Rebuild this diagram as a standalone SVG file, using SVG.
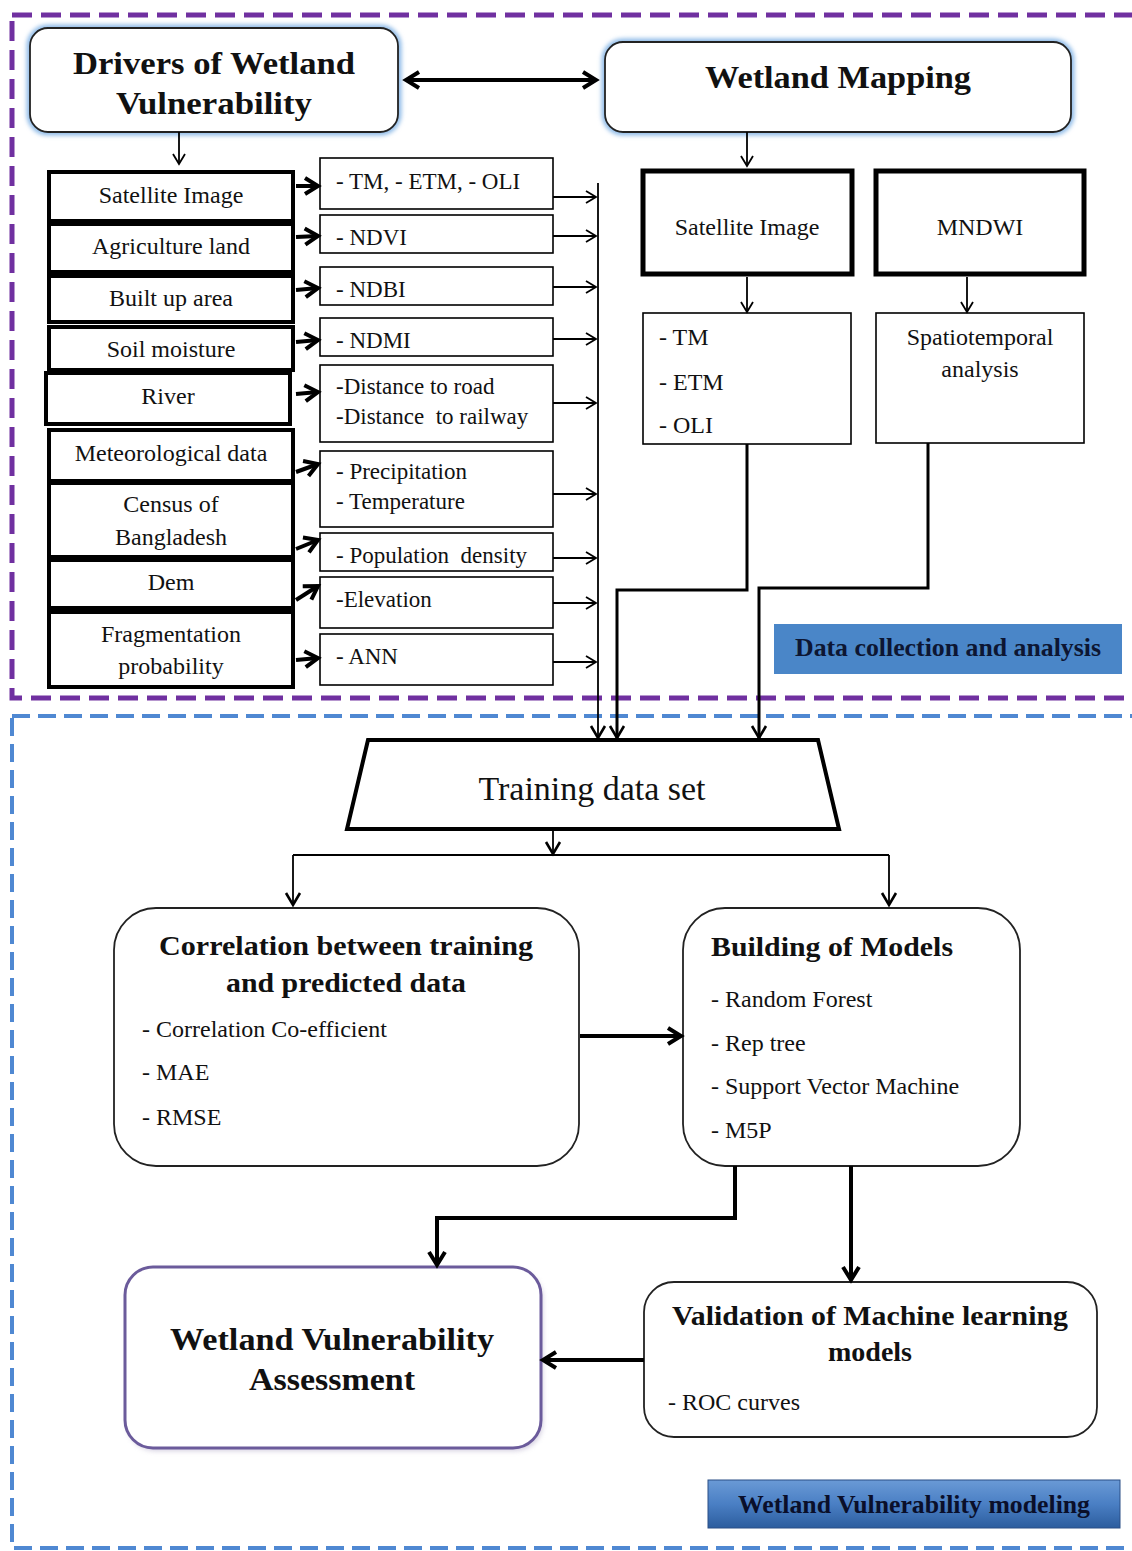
<svg xmlns="http://www.w3.org/2000/svg" width="1132" height="1551" viewBox="0 0 1132 1551">
<defs>
<style>
text{fill:#111}
.b{font-weight:bold}
.c{text-anchor:middle}
.f24{font-size:24px}
.f22{font-size:23px}
.thick{fill:#fff;stroke:#000;stroke-width:4}
.thin{fill:#fff;stroke:#000;stroke-width:1.6}
.rbox{fill:#fff;stroke:#222;stroke-width:1.8}
.ln{fill:none;stroke:#000;stroke-width:1.8}
.ln3{fill:none;stroke:#000;stroke-width:3}
.ln4{fill:none;stroke:#000;stroke-width:4}
</style>
<marker id="ah" markerUnits="userSpaceOnUse" markerWidth="16" markerHeight="16" refX="13" refY="8" orient="auto-start-reverse">
<path d="M3,2 L13,8 L3,14" fill="none" stroke="#000" stroke-width="1.8"/>
</marker>
<marker id="ahm" markerUnits="userSpaceOnUse" markerWidth="20" markerHeight="20" refX="16" refY="10" orient="auto-start-reverse">
<path d="M4,3 L16,10 L4,17" fill="none" stroke="#000" stroke-width="2.6"/>
</marker>
<marker id="ahb" markerUnits="userSpaceOnUse" markerWidth="24" markerHeight="24" refX="19" refY="12" orient="auto-start-reverse">
<path d="M6,4 L19,12 L6,20" fill="none" stroke="#000" stroke-width="4"/>
</marker>
<filter id="glow" x="-10%" y="-20%" width="120%" height="140%">
<feGaussianBlur stdDeviation="2"/>
</filter>
<filter id="sh" x="-10%" y="-10%" width="120%" height="130%">
<feGaussianBlur stdDeviation="2.5"/>
</filter>
<linearGradient id="gb" x1="0" y1="0" x2="0" y2="1">
<stop offset="0" stop-color="#6a9ad6"/>
<stop offset="0.5" stop-color="#4a7fc4"/>
<stop offset="1" stop-color="#2c5d9e"/>
</linearGradient>
</defs>

<g id="borders">
<rect x="12" y="15" width="1128" height="683" fill="none" stroke="#7030a0" stroke-width="5" stroke-dasharray="20 9"/>
<rect x="12" y="716" width="1128" height="832" fill="none" stroke="#4f88d2" stroke-width="4" stroke-dasharray="18 8"/>
</g>

<g id="drivers">
<rect x="30" y="28" width="368" height="104" rx="18" fill="none" stroke="#8fbbe8" stroke-width="7" filter="url(#glow)"/>
<rect x="30" y="28" width="368" height="104" rx="18" class="rbox"/>
<text font-family="Liberation Serif" x="214" y="74" class="b c" font-size="32" textLength="282" lengthAdjust="spacingAndGlyphs">Drivers of Wetland</text>
<text font-family="Liberation Serif" x="214" y="114" class="b c" font-size="32" textLength="196" lengthAdjust="spacingAndGlyphs">Vulnerability</text>
</g>

<g id="wetland-mapping">
<rect x="605" y="42" width="466" height="90" rx="18" fill="none" stroke="#8fbbe8" stroke-width="7" filter="url(#glow)"/>
<rect x="605" y="42" width="466" height="90" rx="18" class="rbox"/>
<text font-family="Liberation Serif" x="838" y="88" class="b c" font-size="32" textLength="266" lengthAdjust="spacingAndGlyphs">Wetland Mapping</text>
</g>

<g id="left-satellite"><rect x="49" y="172" width="244" height="49" class="thick"/><text font-family="Liberation Serif" x="171" y="203" class="c f24">Satellite Image</text></g>
<g id="left-agriculture"><rect x="49" y="224" width="244" height="48" class="thick"/><text font-family="Liberation Serif" x="171" y="254" class="c f24">Agriculture land</text></g>
<g id="left-builtup"><rect x="49" y="276" width="244" height="46" class="thick"/><text font-family="Liberation Serif" x="171" y="306" class="c f24">Built up area</text></g>
<g id="left-soil"><rect x="49" y="327" width="244" height="43" class="thick"/><text font-family="Liberation Serif" x="171" y="357" class="c f24">Soil moisture</text></g>
<g id="left-river"><rect x="46" y="373" width="244" height="51" class="thick"/><text font-family="Liberation Serif" x="168" y="404" class="c f24">River</text></g>
<g id="left-met"><rect x="49" y="430" width="244" height="51" class="thick"/><text font-family="Liberation Serif" x="171" y="461" class="c f24">Meteorological data</text></g>
<g id="left-census"><rect x="49" y="483" width="244" height="74" class="thick"/><text font-family="Liberation Serif" x="171" y="512" class="c f24">Census of</text><text font-family="Liberation Serif" x="171" y="545" class="c f24">Bangladesh</text></g>
<g id="left-dem"><rect x="49" y="560" width="244" height="48" class="thick"/><text font-family="Liberation Serif" x="171" y="590" class="c f24">Dem</text></g>
<g id="left-frag"><rect x="49" y="612" width="244" height="75" class="thick"/><text font-family="Liberation Serif" x="171" y="642" class="c f24">Fragmentation</text><text font-family="Liberation Serif" x="171" y="674" class="c f24">probability</text></g>

<g id="mid-tm"><rect x="320" y="158" width="233" height="51" class="thin"/><text font-family="Liberation Serif" x="336" y="189" class="f22">- TM, - ETM, - OLI</text></g>
<g id="mid-ndvi"><rect x="320" y="215" width="233" height="38" class="thin"/><text font-family="Liberation Serif" x="336" y="245" class="f22">- NDVI</text></g>
<g id="mid-ndbi"><rect x="320" y="267" width="233" height="38" class="thin"/><text font-family="Liberation Serif" x="336" y="297" class="f22">- NDBI</text></g>
<g id="mid-ndmi"><rect x="320" y="318" width="233" height="38" class="thin"/><text font-family="Liberation Serif" x="336" y="348" class="f22">- NDMI</text></g>
<g id="mid-distance"><rect x="320" y="365" width="233" height="77" class="thin"/><text font-family="Liberation Serif" x="336" y="394" class="f22">-Distance to road</text><text font-family="Liberation Serif" x="336" y="424" class="f22" xml:space="preserve">-Distance  to railway</text></g>
<g id="mid-precip"><rect x="320" y="451" width="233" height="76" class="thin"/><text font-family="Liberation Serif" x="336" y="479" class="f22">- Precipitation</text><text font-family="Liberation Serif" x="336" y="509" class="f22">- Temperature</text></g>
<g id="mid-pop"><rect x="320" y="533" width="233" height="38" class="thin"/><text font-family="Liberation Serif" x="336" y="563" class="f22" xml:space="preserve">- Population  density</text></g>
<g id="mid-elev"><rect x="320" y="577" width="233" height="51" class="thin"/><text font-family="Liberation Serif" x="336" y="607" class="f22">-Elevation</text></g>
<g id="mid-ann"><rect x="320" y="634" width="233" height="51" class="thin"/><text font-family="Liberation Serif" x="336" y="664" class="f22">- ANN</text></g>

<g id="right-satellite"><rect x="643" y="171" width="209" height="103" fill="#fff" stroke="#000" stroke-width="5"/><text font-family="Liberation Serif" x="747" y="235" class="c f24">Satellite Image</text></g>
<g id="right-mndwi"><rect x="876" y="171" width="208" height="103" fill="#fff" stroke="#000" stroke-width="5"/><text font-family="Liberation Serif" x="980" y="235" class="c f24">MNDWI</text></g>
<g id="right-tm"><rect x="643" y="313" width="208" height="131" class="thin"/><text font-family="Liberation Serif" x="659" y="345" class="f24">- TM</text><text font-family="Liberation Serif" x="659" y="390" class="f24">- ETM</text><text font-family="Liberation Serif" x="659" y="433" class="f24">- OLI</text></g>
<g id="right-spatio"><rect x="876" y="313" width="208" height="130" class="thin"/><text font-family="Liberation Serif" x="980" y="345" class="c f24">Spatiotemporal</text><text font-family="Liberation Serif" x="980" y="377" class="c f24">analysis</text></g>

<g id="data-collection-label"><rect x="774" y="624" width="348" height="50" fill="#4a86c8"/><text font-family="Liberation Serif" x="948" y="656" class="b c" font-size="25" textLength="306" lengthAdjust="spacingAndGlyphs" style="fill:#0d1633">Data collection and analysis</text></g>

<g id="training"><path d="M368,740 L818,740 L839,829 L347,829 Z" fill="#fff" stroke="#000" stroke-width="4"/><text font-family="Liberation Serif" x="592" y="800" class="c" font-size="34" textLength="227" lengthAdjust="spacingAndGlyphs">Training data set</text></g>

<g id="correlation"><rect x="114" y="908" width="465" height="258" rx="42" class="rbox"/>
<text font-family="Liberation Serif" x="346" y="955" class="b c" font-size="28" textLength="374" lengthAdjust="spacingAndGlyphs">Correlation between training</text>
<text font-family="Liberation Serif" x="346" y="992" class="b c" font-size="28" textLength="240" lengthAdjust="spacingAndGlyphs">and predicted data</text>
<text font-family="Liberation Serif" x="142" y="1037" class="f24">- Correlation Co-efficient</text>
<text font-family="Liberation Serif" x="142" y="1080" class="f24">- MAE</text>
<text font-family="Liberation Serif" x="142" y="1125" class="f24">- RMSE</text></g>

<g id="building"><rect x="683" y="908" width="337" height="258" rx="42" class="rbox"/>
<text font-family="Liberation Serif" x="711" y="956" class="b" font-size="28" textLength="242" lengthAdjust="spacingAndGlyphs">Building of Models</text>
<text font-family="Liberation Serif" x="711" y="1007" class="f24">- Random Forest</text>
<text font-family="Liberation Serif" x="711" y="1051" class="f24">- Rep tree</text>
<text font-family="Liberation Serif" x="711" y="1094" class="f24">- Support Vector Machine</text>
<text font-family="Liberation Serif" x="711" y="1138" class="f24">- M5P</text></g>

<g id="assessment"><rect x="127" y="1270" width="416" height="181" rx="28" fill="#b8b0cc" opacity="0.6" filter="url(#sh)"/>
<rect x="125" y="1267" width="416" height="181" rx="28" fill="#fff" stroke="#6b5b9b" stroke-width="3"/>
<text font-family="Liberation Serif" x="332" y="1350" class="b c" font-size="31" textLength="324" lengthAdjust="spacingAndGlyphs">Wetland Vulnerability</text>
<text font-family="Liberation Serif" x="332" y="1390" class="b c" font-size="31" textLength="166" lengthAdjust="spacingAndGlyphs">Assessment</text></g>

<g id="validation"><rect x="644" y="1282" width="453" height="155" rx="30" class="rbox"/>
<text font-family="Liberation Serif" x="870" y="1325" class="b c" font-size="28" textLength="396" lengthAdjust="spacingAndGlyphs">Validation of Machine learning</text>
<text font-family="Liberation Serif" x="870" y="1361" class="b c" font-size="28">models</text>
<text font-family="Liberation Serif" x="668" y="1410" class="f24">- ROC curves</text></g>

<g id="modeling-label"><rect x="708" y="1480" width="412" height="48" fill="url(#gb)" stroke="#2a4f86" stroke-width="1"/><text font-family="Liberation Serif" x="914" y="1513" class="b c" font-size="25" textLength="352" lengthAdjust="spacingAndGlyphs" style="fill:#0a0f2a">Wetland Vulnerability modeling</text></g>

<g id="connectors">
<line x1="179" y1="132" x2="179" y2="164" class="ln" marker-end="url(#ah)"/>
<line x1="747" y1="132" x2="747" y2="166" class="ln" marker-end="url(#ah)"/>
<line x1="406" y1="80" x2="596" y2="80" class="ln4" marker-start="url(#ahb)" marker-end="url(#ahb)"/>

<line x1="296" y1="186" x2="318" y2="186" class="ln4" marker-end="url(#ahb)"/>
<line x1="296" y1="237" x2="318" y2="236" class="ln4" marker-end="url(#ahb)"/>
<line x1="296" y1="290" x2="318" y2="288" class="ln4" marker-end="url(#ahb)"/>
<line x1="296" y1="342" x2="318" y2="340" class="ln4" marker-end="url(#ahb)"/>
<line x1="296" y1="394" x2="318" y2="392" class="ln4" marker-end="url(#ahb)"/>
<line x1="296" y1="472" x2="318" y2="464" class="ln4" marker-end="url(#ahb)"/>
<line x1="296" y1="549" x2="318" y2="540" class="ln4" marker-end="url(#ahb)"/>
<line x1="296" y1="600" x2="318" y2="586" class="ln4" marker-end="url(#ahb)"/>
<line x1="296" y1="660" x2="318" y2="658" class="ln4" marker-end="url(#ahb)"/>

<line x1="553" y1="197" x2="596" y2="197" class="ln" marker-end="url(#ah)"/>
<line x1="553" y1="236" x2="596" y2="236" class="ln" marker-end="url(#ah)"/>
<line x1="553" y1="287" x2="596" y2="287" class="ln" marker-end="url(#ah)"/>
<line x1="553" y1="339" x2="596" y2="339" class="ln" marker-end="url(#ah)"/>
<line x1="553" y1="403" x2="596" y2="403" class="ln" marker-end="url(#ah)"/>
<line x1="553" y1="494" x2="596" y2="494" class="ln" marker-end="url(#ah)"/>
<line x1="553" y1="558" x2="596" y2="558" class="ln" marker-end="url(#ah)"/>
<line x1="553" y1="603" x2="596" y2="603" class="ln" marker-end="url(#ah)"/>
<line x1="553" y1="662" x2="596" y2="662" class="ln" marker-end="url(#ah)"/>
<line x1="598" y1="183" x2="598" y2="738" class="ln" stroke-width="2.4" marker-end="url(#ahm)"/>

<line x1="747" y1="277" x2="747" y2="312" class="ln" marker-end="url(#ah)"/>
<line x1="967" y1="277" x2="967" y2="312" class="ln" marker-end="url(#ah)"/>
<polyline points="747,444 747,590 617,590 617,738" class="ln3" marker-end="url(#ahm)"/>
<polyline points="928,443 928,588 759,588 759,738" class="ln3" marker-end="url(#ahm)"/>

<line x1="553" y1="831" x2="553" y2="854" class="ln" stroke-width="2" marker-end="url(#ahm)"/>
<line x1="293" y1="855" x2="889" y2="855" class="ln" stroke-width="2"/>
<line x1="293" y1="855" x2="293" y2="905" class="ln" stroke-width="2" marker-end="url(#ahm)"/>
<line x1="889" y1="855" x2="889" y2="905" class="ln" stroke-width="2" marker-end="url(#ahm)"/>

<line x1="580" y1="1036" x2="681" y2="1036" class="ln4" marker-end="url(#ahb)"/>
<polyline points="735,1166 735,1218 437,1218 437,1265" class="ln4" marker-end="url(#ahb)"/>
<line x1="851" y1="1166" x2="851" y2="1280" class="ln4" marker-end="url(#ahb)"/>
<line x1="644" y1="1360" x2="543" y2="1360" class="ln4" marker-end="url(#ahb)"/>
</g>
</svg>
